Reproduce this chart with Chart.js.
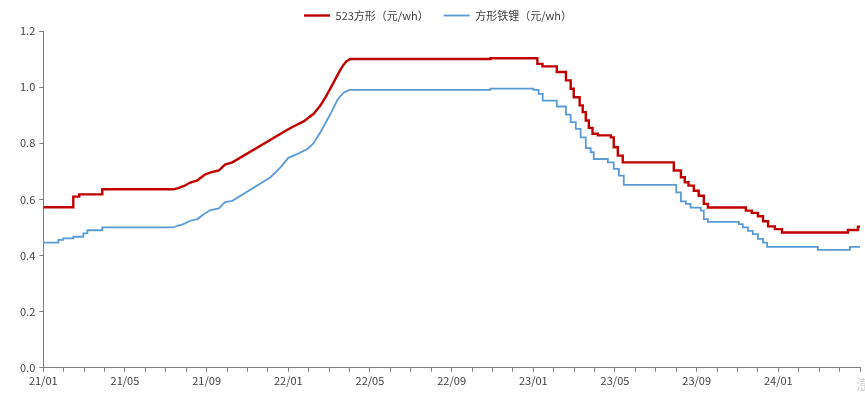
<!DOCTYPE html>
<html lang="zh">
<head>
  <meta charset="UTF-8" />
  <title>电芯价格</title>
  <script src="https://cdn.jsdelivr.net/npm/chart.js"></script>
  <style>
    body {
      margin: 0;
      background: #ffffff;
      font-family: "Noto Sans CJK SC", "Noto Sans", sans-serif;
    }
    .wrap {
      position: relative;
      width: 865px;
      height: 394px;
    }
    .mark {
      position: absolute;
      right: -6px;
      bottom: 0px;
      font-size: 15px;
      color: #d6d6d6;
    }
  </style>
</head>
<body>
  <div class="wrap">
    <canvas id="priceChart" width="865" height="394"></canvas>
    <div class="mark">澎</div>
  </div>

  <script>
    // x = months since 2021-01, steps are written as two points on the same x
    const seriesNames = ["523方形（元/wh）", "方形铁锂（元/wh）"];
    const xTickLabels = ["21/01", "21/05", "21/09", "22/01", "22/05", "22/09", "23/01", "23/05", "23/09", "24/01"];

    const redMonths = [
      0, 1.47, 1.47, 1.76, 1.76, 2.89, 2.89, 6.37, 6.6, 6.9, 7.2, 7.55, 7.9, 8.2, 8.6, 8.9, 9.26,
      11.96, 12.2, 12.75, 13.24, 13.58, 13.87, 14.17, 14.46, 14.66, 14.85, 15.05,
      21.9, 21.9, 24.2, 24.2, 24.45, 24.45, 25.15, 25.15, 25.6, 25.6, 25.83, 25.83,
      25.98, 25.98, 26.27, 26.27, 26.42, 26.42, 26.57, 26.57, 26.72, 26.72, 26.9, 26.9,
      27.16, 27.16, 27.8, 27.8, 27.94, 27.94, 28.14, 28.14, 28.38, 28.38,
      30.88, 30.88, 31.23, 31.23, 31.42, 31.42, 31.6, 31.6, 31.86, 31.86, 32.1, 32.1,
      32.35, 32.35, 32.55, 32.55, 34.41, 34.41, 34.7, 34.7, 35.0, 35.0, 35.25, 35.25,
      35.5, 35.5, 35.83, 35.83, 36.18, 36.18, 39.41, 39.41, 39.9, 39.9, 40
    ];
    const redValues = [
      0.572, 0.572, 0.61, 0.61, 0.618, 0.618, 0.636, 0.636, 0.64, 0.648, 0.66, 0.668, 0.688, 0.696, 0.703, 0.724, 0.732,
      0.848, 0.858, 0.878, 0.905, 0.935, 0.97, 1.01, 1.05, 1.075, 1.092, 1.10,
      1.10, 1.103, 1.103, 1.083, 1.083, 1.074, 1.074, 1.054, 1.054, 1.024, 1.024, 0.994,
      0.994, 0.964, 0.964, 0.935, 0.935, 0.911, 0.911, 0.881, 0.881, 0.855, 0.855, 0.834,
      0.834, 0.828, 0.828, 0.821, 0.821, 0.786, 0.786, 0.756, 0.756, 0.732,
      0.732, 0.703, 0.703, 0.679, 0.679, 0.661, 0.661, 0.649, 0.649, 0.631, 0.631, 0.613,
      0.613, 0.584, 0.584, 0.571, 0.571, 0.56, 0.56, 0.552, 0.552, 0.54, 0.54, 0.522,
      0.522, 0.504, 0.504, 0.494, 0.494, 0.482, 0.482, 0.491, 0.491, 0.503, 0.503
    ];

    const blueMonths = [
      0, 0.74, 0.74, 0.98, 0.98, 1.47, 1.47, 1.96, 1.96, 2.16, 2.16, 2.89, 2.89, 6.37,
      6.57, 6.86, 7.2, 7.55, 7.9, 8.2, 8.6, 8.9, 9.26, 11.13, 11.62, 12.0, 12.45, 12.94,
      13.24, 13.58, 14.07, 14.41, 14.7, 15.0,
      21.9, 21.9, 24.0, 24.0, 24.26, 24.26, 24.46, 24.46, 25.15, 25.15, 25.6, 25.6,
      25.83, 25.83, 26.08, 26.08, 26.32, 26.32, 26.57, 26.57, 26.81, 26.81, 26.96, 26.96,
      27.65, 27.65, 27.94, 27.94, 28.19, 28.19, 28.43, 28.43,
      31.0, 31.0, 31.23, 31.23, 31.47, 31.47, 31.7, 31.7, 32.2, 32.2, 32.35, 32.35, 32.55, 32.55,
      34.07, 34.07, 34.26, 34.26, 34.51, 34.51, 34.75, 34.75, 35.0, 35.0, 35.25, 35.25,
      35.45, 35.45, 37.94, 37.94, 39.51, 39.51, 40
    ];
    const blueValues = [
      0.446, 0.446, 0.456, 0.456, 0.461, 0.461, 0.467, 0.467, 0.479, 0.479, 0.49, 0.49, 0.50, 0.50,
      0.506, 0.512, 0.524, 0.53, 0.55, 0.562, 0.568, 0.59, 0.595, 0.679, 0.714, 0.748, 0.762, 0.78,
      0.80, 0.84, 0.905, 0.955, 0.98, 0.99,
      0.99, 0.995, 0.995, 0.99, 0.99, 0.976, 0.976, 0.952, 0.952, 0.931, 0.931, 0.902,
      0.902, 0.875, 0.875, 0.851, 0.851, 0.821, 0.821, 0.783, 0.783, 0.768, 0.768, 0.744,
      0.744, 0.732, 0.732, 0.709, 0.709, 0.685, 0.685, 0.652,
      0.652, 0.625, 0.625, 0.593, 0.593, 0.584, 0.584, 0.571, 0.571, 0.56, 0.56, 0.53, 0.53, 0.52,
      0.52, 0.512, 0.512, 0.50, 0.50, 0.488, 0.488, 0.476, 0.476, 0.459, 0.459, 0.446,
      0.446, 0.431, 0.431, 0.42, 0.42, 0.431, 0.431
    ];

    function toPoints(xs, ys) {
      return xs.map((x, i) => ({ x: x, y: ys[i] }));
    }

    const axisColor = "#7f7f7f";
    const textColor = "#404040";

    new Chart(document.getElementById("priceChart").getContext("2d"), {
      type: "line",
      data: {
        datasets: [
          {
            label: seriesNames[0],
            data: toPoints(redMonths, redValues),
            borderColor: "#c00000",
            backgroundColor: "#c00000",
            borderWidth: 2.4,
            pointRadius: 0,
            tension: 0
          },
          {
            label: seriesNames[1],
            data: toPoints(blueMonths, blueValues),
            borderColor: "#5b9bd5",
            backgroundColor: "#5b9bd5",
            borderWidth: 1.8,
            pointRadius: 0,
            tension: 0
          }
        ]
      },
      options: {
        responsive: false,
        animation: false,
        layout: { padding: { left: 16, right: 5, top: -5, bottom: 5 } },
        plugins: {
          legend: {
            position: "top",
            labels: {
              usePointStyle: true,
              pointStyle: "line",
              pointStyleWidth: 26,
              boxHeight: 8,
              padding: 15,
              color: textColor,
              font: { size: 11, family: "'Noto Sans CJK SC', sans-serif" }
            }
          },
          tooltip: { enabled: false }
        },
        scales: {
          x: {
            type: "linear",
            min: 0,
            max: 40,
            grid: {
              display: true,
              drawOnChartArea: false,
              drawTicks: true,
              tickLength: 4,
              color: axisColor
            },
            border: { display: true, color: axisColor, width: 1 },
            ticks: {
              stepSize: 1,
              autoSkip: false,
              maxRotation: 0,
              padding: 2,
              color: textColor,
              font: { size: 11, family: "'Noto Sans CJK SC', sans-serif" },
              callback: function (value) {
                if (value % 4 !== 0) return "";
                return xTickLabels[value / 4] || "";
              }
            }
          },
          y: {
            min: 0,
            max: 1.2,
            grid: {
              display: true,
              drawOnChartArea: false,
              drawTicks: true,
              tickLength: 4,
              color: axisColor
            },
            border: { display: true, color: axisColor, width: 1 },
            ticks: {
              stepSize: 0.2,
              padding: 4,
              color: textColor,
              font: { size: 11, family: "'Noto Sans CJK SC', sans-serif" },
              callback: function (value) {
                return value.toFixed(1);
              }
            }
          }
        }
      }
    });
  </script>
</body>
</html>
